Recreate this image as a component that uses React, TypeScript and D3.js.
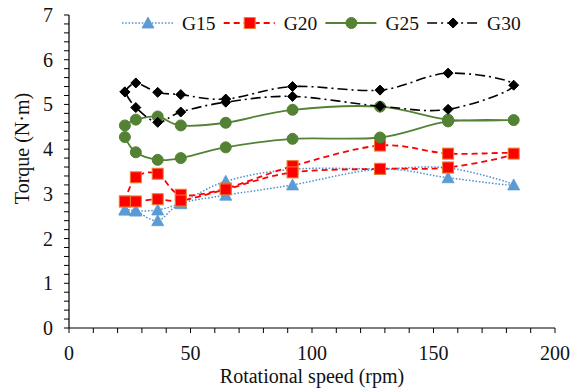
import React, { useMemo } from "react";
import * as d3 from "d3";

// rotational speed sequence: ramp up, then back down
const speeds = [23, 27.5, 36.5, 46, 64.5, 92, 128, 156, 183, 156, 128, 92, 64.5, 46, 36.5, 27.5, 23];

const g15 = [2.64, 2.62, 2.64, 2.8, 3.28, 3.55, 3.56, 3.58, 3.2, 3.36, 3.55, 3.2, 2.97, 2.78, 2.4, 2.62, 2.64];
const g20 = [2.83, 3.37, 3.45, 2.98, 3.12, 3.62, 4.08, 3.9, 3.9, 3.59, 3.56, 3.48, 3.1, 2.85, 2.88, 2.83, 2.83];
const g25 = [4.53, 4.66, 4.73, 4.53, 4.59, 4.88, 4.95, 4.66, 4.65, 4.62, 4.26, 4.23, 4.04, 3.8, 3.76, 3.93, 4.27];
const g30 = [5.28, 5.48, 5.27, 5.22, 5.12, 5.4, 5.32, 5.7, 5.43, 4.89, 4.96, 5.18, 5.05, 4.83, 4.6, 4.93, 5.28];

const xTickValues = [0, 50, 100, 150, 200];
const yTickValues = [0, 1, 2, 3, 4, 5, 6, 7];

const SERIES = [
  { key: "G15", values: g15, color: "#4f8fcf", marker: "triangle", fill: "#5b9bd5", stroke: "#5b9bd5", dash: "1.5 1.8", width: 1.5 },
  { key: "G20", values: g20, color: "#ff0000", marker: "square", fill: "#ff0000", stroke: "#ed7d31", dash: "6 4", width: 1.8 },
  { key: "G25", values: g25, color: "#548235", marker: "circle", fill: "#548235", stroke: "#548235", dash: "", width: 1.8 },
  { key: "G30", values: g30, color: "#000000", marker: "diamond", fill: "#000000", stroke: "#000000", dash: "10 4 2 4", width: 1.6 },
];

const W = 571;
const H = 391;
const FONT = "'Liberation Serif', 'Times New Roman', serif";

function Marker({ type, x, y, fill, stroke }: { type: string; x: number; y: number; fill: string; stroke: string }) {
  if (type === "triangle") {
    return <path d={`M${x},${y - 6} L${x + 6},${y + 5} L${x - 6},${y + 5} Z`} fill={fill} stroke={stroke} strokeWidth={0.8} />;
  }
  if (type === "square") {
    return <rect x={x - 5.5} y={y - 5.5} width={11} height={11} fill={fill} stroke={stroke} strokeWidth={1} />;
  }
  if (type === "circle") {
    return <circle cx={x} cy={y} r={5.5} fill={fill} stroke={stroke} />;
  }
  return <path d={`M${x},${y - 5} L${x + 5},${y} L${x},${y + 5} L${x - 5},${y} Z`} fill={fill} stroke={stroke} />;
}

export default function App() {
  const margin = { top: 15, right: 16, bottom: 63, left: 69 };
  const w = W - margin.left - margin.right;
  const h = H - margin.top - margin.bottom;

  const chart = useMemo(() => {
    const x = d3.scaleLinear().domain([0, 200]).range([0, w]);
    const y = d3.scaleLinear().domain([0, 7]).range([h, 0]);
    const line = d3
      .line<number>()
      .x((_, i) => x(speeds[i]))
      .y((d) => y(d))
      .curve(d3.curveCardinal.tension(0));
    const lines = SERIES.map((s) => ({ ...s, path: line(s.values) || "" }));
    const xMinor = d3.range(0, 201, 10);
    const yMinor = d3.range(0, 7.01, 0.2);
    return { x, y, lines, xMinor, yMinor };
  }, [w, h]);

  const { x, y } = chart;

  return (
    <svg width={W} height={H} style={{ position: "absolute", left: 0, top: 0, background: "#fff" }} fontFamily={FONT}>
      <g transform={`translate(${margin.left},${margin.top})`}>
        {/* series */}
        {chart.lines.map((l) => (
          <g key={l.key}>
            <path d={l.path} fill="none" stroke={l.color} strokeWidth={l.width} strokeDasharray={l.dash || undefined} />
            {l.values.map((v, i) => (
              <Marker key={i} type={l.marker} x={x(speeds[i])} y={y(v)} fill={l.fill} stroke={l.stroke} />
            ))}
          </g>
        ))}

        {/* axes */}
        <line x1={0} x2={w} y1={h} y2={h} stroke="#000" strokeWidth={1.2} />
        <line x1={0} x2={0} y1={0} y2={h} stroke="#000" strokeWidth={1.2} />
        {chart.xMinor.map((t) => (
          <line key={t} x1={x(t)} x2={x(t)} y1={h} y2={h + 5} stroke="#000" />
        ))}
        {chart.yMinor.map((t) => (
          <line key={t} x1={-5} x2={0} y1={y(t)} y2={y(t)} stroke="#000" />
        ))}
        {xTickValues.map((t) => (
          <text key={t} x={x(t)} y={h + 32} fontSize={20} textAnchor="middle" fill="#111">
            {t}
          </text>
        ))}
        {yTickValues.map((t) => (
          <text key={t} x={-16} y={y(t)} fontSize={20} textAnchor="end" dominantBaseline="central" fill="#111">
            {t}
          </text>
        ))}
        <text x={w / 2} y={h + 55} fontSize={20} textAnchor="middle" fill="#111">
          Rotational speed (rpm)
        </text>
        <text transform={`translate(${-40},${h / 2 - 23}) rotate(-90)`} fontSize={20} textAnchor="middle" fill="#111">
          Torque (N·m)
        </text>
      </g>

      {/* legend */}
      <g transform="translate(122,23)">
        {SERIES.map((s, i) => (
          <g key={s.key} transform={`translate(${i * 101.7},0)`}>
            <line x1={0} x2={51} y1={0} y2={0} stroke={s.color} strokeWidth={s.width} strokeDasharray={s.dash || undefined} />
            <Marker type={s.marker} x={26} y={0} fill={s.fill} stroke={s.stroke} />
            <text x={60} y={0} fontSize={19.5} dominantBaseline="central" fill="#111">
              {s.key}
            </text>
          </g>
        ))}
      </g>
    </svg>
  );
}
